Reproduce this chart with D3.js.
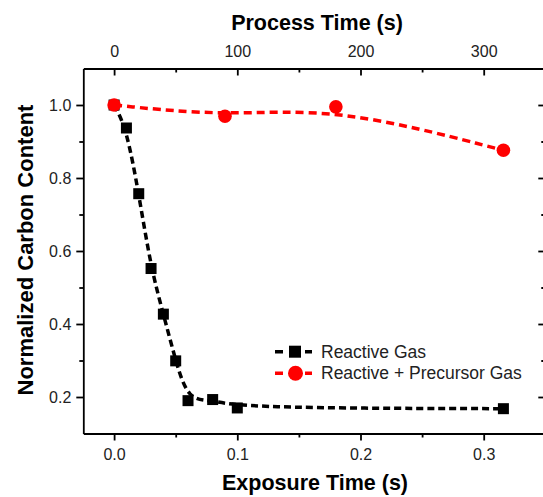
<!DOCTYPE html>
<html>
<head>
<meta charset="utf-8">
<script src="https://cdn.jsdelivr.net/npm/d3@7"></script>
<style>
  body { margin: 0; background: #fff; }
  svg { display: block; font-family: "Liberation Sans", Arial, sans-serif; }
</style>
</head>
<body>
<svg id="chart"></svg>
<script>
// Data
const reactiveTime = [0, 0.01, 0.02, 0.03, 0.04, 0.05, 0.06, 0.08, 0.1, 0.316];
const reactiveCarbon = [1.0, 0.937, 0.757, 0.552, 0.427, 0.299, 0.19, 0.193, 0.17, 0.168];
const precursorTime = [0, 0.09, 0.18, 0.316];
const precursorCarbon = [1.0, 0.969, 0.995, 0.876];
const seriesNames = ["Reactive Gas", "Reactive + Precursor Gas"];

const xTicks = [0, 0.1, 0.2, 0.3];
const xMinor = [0.05, 0.15, 0.25];
const topTicks = [0, 100, 200, 300];
const topMinor = [50, 150, 250];
const yTicks = [0.2, 0.4, 0.6, 0.8, 1.0];
const yMinor = [0.3, 0.5, 0.7, 0.9];

// Dimensions
const width = 543;
const height = 497;
const plotLeft = 83.3, plotRight = 545.3, plotTop = 68.5, plotBottom = 433.5;

const svg = d3.select("#chart")
    .attr("width", width)
    .attr("height", height);

// Scales
const xScale = d3.scaleLinear().domain([-0.025, 0.35]).range([plotLeft, plotRight]);
const topScale = d3.scaleLinear().domain([-25, 350]).range([plotLeft, plotRight]);
const yScale = d3.scaleLinear().domain([0.1, 1.1]).range([plotBottom, plotTop]);

// Axis helper: draw an axis, then style it
function drawAxis(axis, tx, ty, showLabels) {
  const g = svg.append("g")
      .attr("transform", `translate(${tx},${ty})`)
      .call(axis);
  g.select(".domain").attr("stroke-width", 1.8);
  g.selectAll(".tick line").attr("stroke-width", 1.8);
  g.selectAll(".tick text")
      .attr("font-size", 16)
      .attr("fill", "#222");
  if (!showLabels) g.selectAll(".tick text").remove();
  return g;
}

// Major axes
drawAxis(d3.axisBottom(xScale).tickValues(xTicks).tickFormat(d3.format(".1f"))
    .tickSize(7).tickSizeOuter(0).tickPadding(8), 0, plotBottom, true);
drawAxis(d3.axisLeft(yScale).tickValues(yTicks).tickFormat(d3.format(".1f"))
    .tickSize(7).tickSizeOuter(0).tickPadding(5), plotLeft, 0, true);
drawAxis(d3.axisTop(topScale).tickValues(topTicks).tickFormat(d3.format("d"))
    .tickSize(-7).tickSizeOuter(0).tickPadding(12), 0, plotTop, true);
drawAxis(d3.axisRight(yScale).tickValues(yTicks)
    .tickSize(-7).tickSizeOuter(0), plotRight, 0, false);

// Minor ticks
drawAxis(d3.axisBottom(xScale).tickValues(xMinor).tickSize(4).tickSizeOuter(0), 0, plotBottom, false)
    .select(".domain").remove();
drawAxis(d3.axisLeft(yScale).tickValues(yMinor).tickSize(4).tickSizeOuter(0), plotLeft, 0, false)
    .select(".domain").remove();
drawAxis(d3.axisTop(topScale).tickValues(topMinor).tickSize(-4).tickSizeOuter(0), 0, plotTop, false)
    .select(".domain").remove();
drawAxis(d3.axisRight(yScale).tickValues(yMinor).tickSize(-4).tickSizeOuter(0), plotRight, 0, false)
    .select(".domain").remove();

// Axis titles
svg.append("text")
    .attr("x", 315).attr("y", 490)
    .attr("text-anchor", "middle")
    .attr("font-size", 21.5).attr("font-weight", "bold")
    .text("Exposure Time (s)");

svg.append("text")
    .attr("x", 317).attr("y", 30)
    .attr("text-anchor", "middle")
    .attr("font-size", 21.5).attr("font-weight", "bold")
    .text("Process Time (s)");

svg.append("text")
    .attr("transform", "translate(33,250) rotate(-90)")
    .attr("text-anchor", "middle")
    .attr("font-size", 22).attr("font-weight", "bold")
    .text("Normalized Carbon Content");

// Lines (B-spline like the original)
const line = d3.line()
    .x(d => xScale(d[0]))
    .y(d => yScale(d[1]))
    .curve(d3.curveBasis);

const reactive = reactiveTime.map((t, i) => [t, reactiveCarbon[i]]);
const precursor = precursorTime.map((t, i) => [t, precursorCarbon[i]]);

svg.append("path")
    .datum(reactive)
    .attr("d", line)
    .attr("fill", "none")
    .attr("stroke", "#000")
    .attr("stroke-width", 3.5)
    .attr("stroke-dasharray", "7,4");

svg.selectAll("rect.reactive")
    .data(reactive)
    .enter()
    .append("rect")
    .attr("class", "reactive")
    .attr("x", d => xScale(d[0]) - 5.5)
    .attr("y", d => yScale(d[1]) - 5.5)
    .attr("width", 11)
    .attr("height", 11)
    .attr("fill", "#000");

svg.append("path")
    .datum(precursor)
    .attr("d", line)
    .attr("fill", "none")
    .attr("stroke", "#ff0000")
    .attr("stroke-width", 3.5)
    .attr("stroke-dasharray", "8,5");

svg.selectAll("circle.precursor")
    .data(precursor)
    .enter()
    .append("circle")
    .attr("class", "precursor")
    .attr("cx", d => xScale(d[0]))
    .attr("cy", d => yScale(d[1]))
    .attr("r", 6.8)
    .attr("fill", "#ff0000");

// Legend
const legend = svg.append("g").attr("transform", "translate(275,351.7)");
const rowGap = 21.6;

seriesNames.forEach((name, i) => {
  const row = legend.append("g").attr("transform", `translate(0,${i * rowGap})`);
  const color = i === 0 ? "#000" : "#ff0000";
  row.append("line")
      .attr("x1", 0).attr("x2", 37)
      .attr("stroke", color)
      .attr("stroke-width", 3.5)
      .attr("stroke-dasharray", "8,22");
  if (i === 0) {
    row.append("rect")
        .attr("x", 20 - 6).attr("y", -6)
        .attr("width", 12).attr("height", 12)
        .attr("fill", color);
  } else {
    row.append("circle")
        .attr("cx", 20.5).attr("r", 7.5)
        .attr("fill", color);
  }
  row.append("text")
      .attr("x", 46)
      .attr("dy", "0.35em")
      .attr("font-size", 17.5)
      .attr("fill", "#222")
      .text(name);
});
</script>
</body>
</html>
